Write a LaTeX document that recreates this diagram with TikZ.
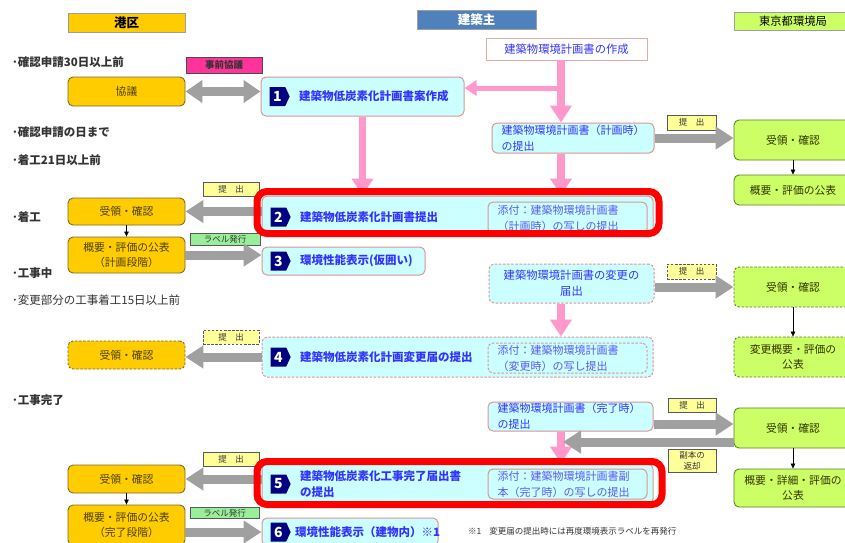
\documentclass[tikz,border=0pt]{standalone}
\usepackage{fontspec}
\setmainfont{Noto Sans CJK JP}
\usetikzlibrary{arrows.meta,shapes.symbols,calc}
\definecolor{orangeF}{HTML}{FFCC00}
\definecolor{orangeD}{HTML}{7A6A30}
\definecolor{greenF}{HTML}{CCFF66}
\definecolor{greenD}{HTML}{5F7F2A}
\definecolor{cyanF}{HTML}{CCFFFF}
\definecolor{cyanD}{HTML}{D99694}
\definecolor{yelF}{HTML}{FFFF99}
\definecolor{lblF}{HTML}{99EE99}
\definecolor{magF}{HTML}{FF3399}
\definecolor{headB}{HTML}{4F81BD}
\definecolor{pinkA}{HTML}{FF99CC}
\definecolor{grayA}{HTML}{A0A0A0}
\definecolor{blueT}{HTML}{3333FF}
\definecolor{blueL}{HTML}{5A5AF5}
\definecolor{navyB}{HTML}{000080}
\definecolor{oliveT}{HTML}{4D4000}
\definecolor{greenT}{HTML}{333300}
\definecolor{labT}{HTML}{333333}
\definecolor{redF}{HTML}{FF0000}
\tikzset{
  hdr/.style={draw=gray!75, line width=0.8pt, inner sep=0pt, text=black},
  obox/.style={draw=orangeD, fill=orangeF, rounded corners=5pt, line width=0.9pt, text=oliveT, font=\fontsize{10.8}{15}\selectfont, align=center, inner sep=0pt},
  gbox/.style={draw=greenD, fill=greenF, rounded corners=5pt, line width=0.9pt, text=greenT, font=\fontsize{10.8}{15}\selectfont, align=center, inner sep=0pt},
  cbox/.style={draw=cyanD, fill=cyanF, rounded corners=5pt, line width=1pt, inner sep=0pt},
  dsh/.style={dash pattern=on 2.5pt off 1.6pt},
  ylab/.style={draw=gray!70!black, fill=yelF, line width=0.7pt, inner sep=0pt, text=labT, font=\fontsize{8.5}{11}\selectfont, align=center},
  glab/.style={draw=gray!70!black, fill=lblF, line width=0.7pt, inner sep=0pt, text=labT, font=\fontsize{8.5}{10}\selectfont},
  badge/.style={signal, signal to=east, signal pointer angle=130, fill=navyB, text=white, font=\fontsize{14}{14}\selectfont\bfseries, inner xsep=3.5pt, inner ysep=2.5pt, minimum height=19pt},
  btxt/.style={anchor=west, text=blueT, font=\fontsize{11.5}{16}\selectfont\bfseries, align=left, inner sep=0pt},
  stxt/.style={text=blueT, font=\fontsize{11}{16}\selectfont, align=left, inner sep=0pt},
  side/.style={anchor=west, text=labT, font=\fontsize{11.5}{13}\selectfont\bfseries, inner sep=0pt},
  garrow/.style={draw=grayA, line width=9pt, -{Triangle[length=18pt,width=22pt]}},
  gdouble/.style={draw=grayA, line width=9pt, {Triangle[length=17pt,width=22pt]}-{Triangle[length=17pt,width=22pt]}},
  parrow/.style={draw=pinkA, line width=7.5pt, -{Triangle[length=17pt,width=21pt]}},
  pthin/.style={draw=pinkA, line width=5pt, -{Triangle[length=12pt,width=15pt]}},
  barrow/.style={draw=black, line width=0.6pt, -{Triangle[length=5pt,width=4.5pt]}},
  redframe/.style={draw=redF, line width=7pt, rounded corners=10pt, inner sep=0pt},
}
\begin{document}
\begin{tikzpicture}[x=1pt,y=-1pt]
\useasboundingbox (0,0) rectangle (845,542);
\fill[white] (0,0) rectangle (845,542);

% headers
\node[hdr, fill=orangeF, minimum width=117pt, minimum height=19pt, font=\fontsize{12.5}{13}\selectfont\bfseries] (hMinato) at (126.5,22.5) {港区};
\node[hdr, fill=headB, text=white, minimum width=119pt, minimum height=19pt, font=\fontsize{12.5}{13}\selectfont\bfseries] (hOwner) at (476.5,19.5) {建築主};
\node[hdr, fill=greenF, minimum width=118pt, minimum height=18pt, font=\fontsize{11.3}{13}\selectfont] (hTokyo) at (793,21) {東京都環境局};

% side labels
\node[side] (s1) at (12,62) {･確認申請30日以上前};
\node[side] (s2) at (12,132) {･確認申請の日まで};
\node[side] (s3) at (12,160) {･着工21日以上前};
\node[side] (s4) at (12,217) {･着工};
\node[side] (s5) at (12,273) {･工事中};
\node[side, font=\fontsize{11.5}{13}\selectfont] (s6) at (12,300) {･変更部分の工事着工15日以上前};
\node[side] (s7) at (12,400) {･工事完了};

% row 1
\node[draw=gray!60!black, fill=magF, line width=0.7pt, minimum width=76pt, minimum height=16pt, inner sep=0pt, font=\fontsize{9.5}{10}\selectfont\bfseries, text=black!80] (jizen) at (224,65) {事前協議};
\node[obox, minimum width=117pt, minimum height=29pt] (kyogi) at (126.5,91.5) {協議};
\node[cbox, minimum width=203pt, minimum height=39pt] (b1) at (362.5,96.5) {};
\node[badge, anchor=west] (n1) at ($(b1.west)+(9,0)$) {1};
\node[btxt] (t1) at ($(n1.east)+(9,0)$) {建築物低炭素化計画書案作成};
\node[draw=cyanD!80, fill=white, line width=0.9pt, minimum width=161pt, minimum height=22pt, inner sep=0pt, text=blueT, font=\fontsize{11.3}{14}\selectfont] (sakusei) at (566.5,49) {建築物環境計画書の作成};
\node[cbox, minimum width=162pt, minimum height=30pt] (keikaku) at (573,138) {};
\node[stxt, anchor=west] (keikakut) at ($(keikaku.west)+(10,0)$) {建築物環境計画書（計画時）\\の提出};
\node[ylab, minimum width=49pt, minimum height=15pt] (tei1) at (691.5,122.5) {提　出};
\node[gbox, minimum width=118pt, minimum height=40pt] (gj1) at (793,140) {受領・確認};
\node[gbox, minimum width=118pt, minimum height=30pt] (gg1) at (793,190) {概要・評価の公表};

% row 2
\node[cbox, minimum width=391pt, minimum height=40pt] (b2) at (457.5,216) {};
\node[badge, anchor=west] (n2) at ($(b2.west)+(9,1)$) {2};
\node[btxt] (t2) at ($(n2.east)+(9,0)$) {建築物低炭素化計画書提出};
\node[cbox, minimum width=159pt, minimum height=32pt] (a2) at (567.5,218) {};
\node[stxt, anchor=west, text=blueL] (a2t) at ($(a2.west)+(10,0)$) {添付：建築物環境計画書\\（計画時）の写しの提出};
\node[ylab, minimum width=56pt, minimum height=14pt] (tei2) at (231,189) {提　出};
\node[obox, minimum width=117pt, minimum height=27pt] (oj2) at (126.5,211.5) {受領・確認};
\node[obox, minimum width=117pt, minimum height=36pt] (og2) at (126.5,255) {概要・評価の公表\\（計画段階）};
\node[glab, minimum width=70pt, minimum height=12pt] (lab2) at (225,239) {ラベル発行};
\node[cbox, minimum width=163pt, minimum height=28pt] (b3) at (343.5,261) {};
\node[badge, anchor=west] (n3) at ($(b3.west)+(9,0)$) {3};
\node[btxt] (t3) at ($(n3.east)+(9,0)$) {環境性能表示(仮囲い)};

% row 3
\node[cbox, dsh, minimum width=165pt, minimum height=39pt, text=blueT, font=\fontsize{11.3}{16}\selectfont, align=center] (henko) at (571.5,283.5) {建築物環境計画書の変更の\\届出};
\node[ylab, dsh, minimum width=49pt, minimum height=15pt] (tei3) at (691.5,271.5) {提　出};
\node[gbox, dsh, minimum width=118pt, minimum height=40pt] (gj3) at (793,287) {受領・確認};
\node[gbox, dsh, minimum width=118pt, minimum height=40pt] (gg3) at (793,357) {変更概要・評価の\\公表};
\node[cbox, dsh, minimum width=391pt, minimum height=40pt] (b4) at (457.5,357) {};
\node[badge, anchor=west] (n4) at ($(b4.west)+(9,0)$) {4};
\node[btxt] (t4) at ($(n4.east)+(9,0)$) {建築物低炭素化計画変更届の提出};
\node[cbox, dsh, minimum width=159pt, minimum height=30pt] (a4) at (567.5,358) {};
\node[stxt, anchor=west, text=blueL] (a4t) at ($(a4.west)+(10,0)$) {添付：建築物環境計画書\\（変更時）の写し提出};
\node[ylab, dsh, minimum width=56pt, minimum height=14pt] (tei4) at (231,337) {提　出};
\node[obox, dsh, minimum width=117pt, minimum height=28pt] (oj4) at (126.5,355) {受領・確認};

% row 4
\node[cbox, minimum width=165pt, minimum height=29pt] (kanryo) at (570.5,416.5) {};
\node[stxt, anchor=west] (kanryot) at ($(kanryo.west)+(10,0)$) {建築物環境計画書（完了時）\\の提出};
\node[ylab, minimum width=48pt, minimum height=14pt] (tei5r) at (692,405) {提　出};
\node[ylab, minimum width=48pt, minimum height=23pt] (fuku) at (692,460.5) {副本の\\返却};
\node[gbox, minimum width=118pt, minimum height=40pt] (gj5) at (793,428) {受領・確認};
\node[gbox, minimum width=118pt, minimum height=38pt] (gg5) at (793,488) {概要・詳細・評価の\\公表};
\node[cbox, minimum width=391pt, minimum height=40pt] (b5) at (457.5,484) {};
\node[badge, anchor=west] (n5) at ($(b5.west)+(9,0)$) {5};
\node[btxt] (t5) at ($(n5.east)+(9,0)$) {建築物低炭素化工事完了届出書\\の提出};
\node[cbox, minimum width=159pt, minimum height=30pt] (a5) at (567.5,484) {};
\node[stxt, anchor=west, text=blueL] (a5t) at ($(a5.west)+(10,0)$) {添付：建築物環境計画書副\\本（完了時）の写しの提出};
\node[ylab, minimum width=56pt, minimum height=14pt] (tei5l) at (231,459) {提　出};
\node[obox, minimum width=117pt, minimum height=28pt] (oj5) at (126.5,479) {受領・確認};
\node[obox, minimum width=117pt, minimum height=40pt] (og5) at (126.5,525) {概要・評価の公表\\（完了段階）};
\node[glab, minimum width=69pt, minimum height=11pt] (lab5) at (224.5,513) {ラベル発行};
\node[cbox, minimum width=176pt, minimum height=28pt] (b6) at (350,532) {};
\node[badge, anchor=west] (n6) at ($(b6.west)+(9,0)$) {6};
\node[btxt] (t6) at ($(n6.east)+(4,0)$) {環境性能表示（建物内）※1};
\node[anchor=west, inner sep=0pt, text=labT, font=\fontsize{8.5}{10}\selectfont] (foot) at (468,531) {※1\hspace{8pt}変更届の提出時には再度環境表示ラベルを再発行};

% connectors
\coordinate (pv) at (561,0);
\coordinate (pj) at (561,88);
\draw[gdouble] (kyogi.east) -- (kyogi.east -| b1.west);
\draw[parrow] (pv |- sakusei.south) -- (pv |- keikaku.north);
\draw[pthin] (pj) -- (pj -| b1.east);
\draw[parrow] (pv |- keikaku.south) -- (pv |- b2.north);
\draw[parrow] (b1.south) -- (b1.south |- b2.north);
\draw[garrow] (keikaku.east) -- (keikaku.east -| gj1.west);
\draw[barrow] (gj1.south) -- (gg1.north);
\draw[garrow] (oj2.east -| b2.west) -- (oj2.east);
\draw[barrow] (oj2.south) -- (og2.north);
\draw[garrow] (og2.east) -- (og2.east -| b3.west);
\draw[garrow] (gj3.west -| henko.east) -- (gj3.west);
\draw[barrow] (gj3.south) -- (gg3.north);
\draw[parrow] (pv |- henko.south) -- (pv |- b4.north);
\draw[garrow] (b4.west) -- (b4.west -| oj4.east);
\coordinate (k5) at ($(kanryo.east)+(0,7.5)$);
\draw[garrow] (k5) -- (k5 -| gj5.west);
\draw[parrow] (pv |- kanryo.south) -- (pv |- b5.north);
\coordinate (ret) at (563,442);
\draw[garrow] (ret -| gj5.west) -- (ret);
\draw[barrow] (gj5.south) -- (gg5.north);
\draw[garrow] (oj5.east -| b5.west) -- (oj5.east);
\draw[barrow] (oj5.south) -- (og5.north);
\draw[garrow] (b6.west -| og5.east) -- (b6.west);

% highlight frames
\node[redframe, minimum width=402pt, minimum height=42pt] (fr1) at (458,212.5) {};
\node[redframe, minimum width=405pt, minimum height=43pt] (fr2) at (459.5,483) {};
\end{tikzpicture}
\end{document}
